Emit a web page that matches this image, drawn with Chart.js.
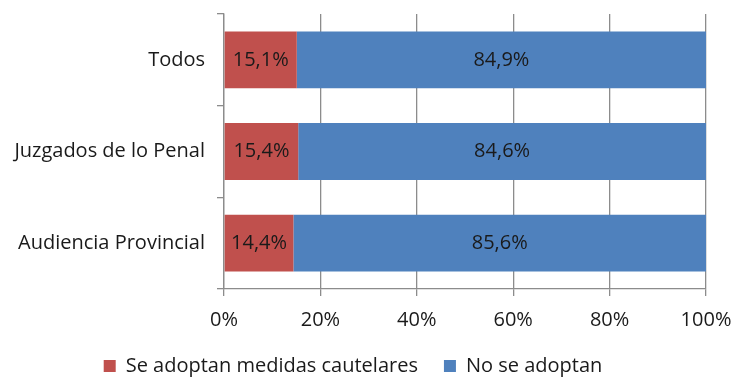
<!DOCTYPE html>
<html>
<head>
<meta charset="utf-8">
<script src="https://cdn.jsdelivr.net/npm/chart.js@4/dist/chart.umd.min.js"></script>
<style>
  html, body { margin: 0; padding: 0; background: #fff; }
  #wrap { width: 735px; height: 378px; }
</style>
</head>
<body>
<div id="wrap"><canvas id="chart" width="735" height="378"></canvas></div>
<script>
const categories = ['Todos', 'Juzgados de lo Penal', 'Audiencia Provincial'];
const seAdoptan = [15.1, 15.4, 14.4];
const noSeAdoptan = [84.9, 84.6, 85.6];
const xTicks = [0, 20, 40, 60, 80, 100];

const FONT = '"Open Sans", Lato, sans-serif';

// etiquetas dentro de las barras
const barLabels = {
    id: 'barLabels',
    afterDatasetsDraw(chart) {
        const ctx = chart.ctx;
        ctx.save();
        ctx.font = '20px ' + FONT;
        ctx.fillStyle = '#1a1a1a';
        ctx.textAlign = 'center';
        ctx.textBaseline = 'middle';
        chart.data.datasets.forEach((ds, i) => {
            chart.getDatasetMeta(i).data.forEach((bar, j) => {
                const cx = (bar.x + bar.base) / 2;
                ctx.fillText(ds.data[j].toFixed(1).replace('.', ',') + '%', cx, bar.y);
            });
        });
        ctx.restore();
    }
};

new Chart(document.getElementById('chart').getContext('2d'), {
    type: 'bar',
    data: {
        labels: categories,
        datasets: [
            {
                label: 'Se adoptan medidas cautelares',
                data: seAdoptan,
                backgroundColor: '#C0504D',
                barPercentage: 0.62,
                categoryPercentage: 1
            },
            {
                label: 'No se adoptan',
                data: noSeAdoptan,
                backgroundColor: '#4F81BD',
                barPercentage: 0.62,
                categoryPercentage: 1
            }
        ]
    },
    options: {
        indexAxis: 'y',
        responsive: false,
        animation: false,
        layout: { padding: { top: 14, right: 29, left: 0, bottom: -8 } },
        plugins: {
            legend: {
                position: 'bottom',
                labels: {
                    boxWidth: 12,
                    boxHeight: 12,
                    padding: 26,
                    color: '#1a1a1a',
                    font: { size: 20, family: FONT }
                }
            },
            tooltip: { enabled: false }
        },
        scales: {
            x: {
                stacked: true,
                min: 0,
                max: 100,
                afterBuildTicks(axis) { axis.ticks = xTicks.map(v => ({ value: v })); },
                afterFit(axis) {
                    axis.height = 41;
                    axis.paddingLeft = 0;
                    axis.paddingRight = 0;
                },
                ticks: {
                    callback: v => v + '%',
                    color: '#1a1a1a',
                    padding: 12,
                    font: { size: 20, family: FONT }
                },
                grid: { color: '#8c8c8c', lineWidth: 1.3, tickLength: 7 },
                border: { color: '#8c8c8c', width: 1.3 }
            },
            y: {
                stacked: true,
                afterFit(axis) {
                    axis.width = 224;
                    axis.paddingTop = 0;
                    axis.paddingBottom = 0;
                },
                ticks: {
                    color: '#1a1a1a',
                    padding: 12,
                    font: { size: 20, family: FONT }
                },
                grid: { offset: true, drawOnChartArea: false, color: '#8c8c8c', lineWidth: 1.3, tickLength: 7 },
                border: { color: '#8c8c8c', width: 1.3 }
            }
        }
    },
    plugins: [barLabels]
});
</script>
</body>
</html>
